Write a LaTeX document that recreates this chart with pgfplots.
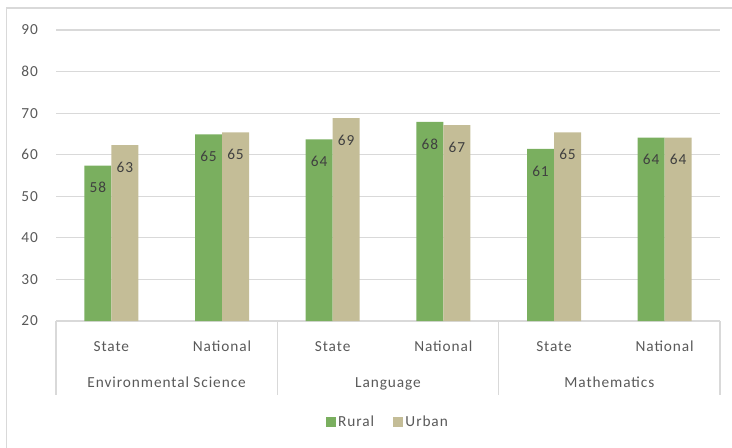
\documentclass[border=0pt]{standalone}
\usepackage{pgfplots}
\pgfplotsset{compat=1.18}
\usepackage{pgfplotstable}
\usepackage{fontspec}
\setmainfont[LetterSpace=6]{Carlito}

\definecolor{rural}{HTML}{7AAF5F}
\definecolor{urban}{HTML}{C4BD97}
\definecolor{gridgray}{HTML}{D9D9D9}
\definecolor{ticktext}{HTML}{595959}
\definecolor{labeltext}{HTML}{404040}

% x: 0 ES State, 1 ES National, 2 Lang State, 3 Lang National, 4 Math State, 5 Math National
\pgfplotstableread{
x  rural urban rl ul
0  57.4  62.3  58 63
1  64.9  65.4  65 65
2  63.7  68.8  64 69
3  67.9  67.1  68 67
4  61.4  65.4  61 65
5  64.1  64.1  64 64
}\scores

\begin{document}
\begin{tikzpicture}[font=\fontsize{11.5}{13}\selectfont]
\begin{axis}[
    scale only axis,
    width=498pt, height=218.25pt,
    ybar, bar width=20.25pt,
    xmin=-0.5, xmax=5.5,
    ymin=20, ymax=90,
    ytick={20,30,...,90},
    xtick={0,...,5},
    xticklabels={State,National,State,National,State,National},
    /pgf/number format/assume math mode=true,
    axis lines*=left,
    y axis line style={draw=none},
    x axis line style={draw=gridgray,-},
    major tick length=0pt,
    ymajorgrids=true,
    grid style={gridgray, line width=0.8pt},
    tick label style={text=ticktext},
    yticklabel style={xshift=-10pt},
    xticklabel style={anchor=base, yshift=-22.5pt},
    nodes near coords,
    point meta=explicit symbolic,
    every node near coord/.append style={anchor=center, yshift=-16.5pt, text=labeltext},
    legend style={at={(0.5,-0.346)}, anchor=center, draw=none, legend columns=2,
        text=ticktext, /tikz/every even column/.append style={column sep=12pt}},
    legend image code/.code={\fill[#1] (0pt,-3.75pt) rectangle (7.5pt,3.75pt);},
    clip=false,
]
\addplot[fill=rural, draw=none, bar shift=-10.125pt] table[x=x, y=rural, meta=rl] {\scores};
\addplot[fill=urban, draw=none, bar shift=10.125pt] table[x=x, y=urban, meta=ul] {\scores};
\legend{Rural, Urban}

\pgfplotsinvokeforeach{-0.5,1.5,3.5,5.5}{
    \draw[gridgray, line width=0.8pt] (axis cs:#1,20) -- ++(0pt,-55.5pt);
}
\node[anchor=base, text=ticktext] at ([yshift=-49.5pt]axis cs:0.5,20) {Environmental Science};
\node[anchor=base, text=ticktext] at ([yshift=-49.5pt]axis cs:2.5,20) {Language};
\node[anchor=base, text=ticktext] at ([yshift=-49.5pt]axis cs:4.5,20) {Mathematics};
\end{axis}
\draw[gridgray, line width=0.8pt]
    ([shift={(-37pt,-120pt)}]current axis.south west) rectangle
    ([shift={(30pt,16.5pt)}]current axis.north east);
\pgfresetboundingbox
\path[use as bounding box]
    ([shift={(-42pt,-94.5pt)}]current axis.south west) rectangle
    ([shift={(9pt,22.5pt)}]current axis.north east);
\end{tikzpicture}
\end{document}
